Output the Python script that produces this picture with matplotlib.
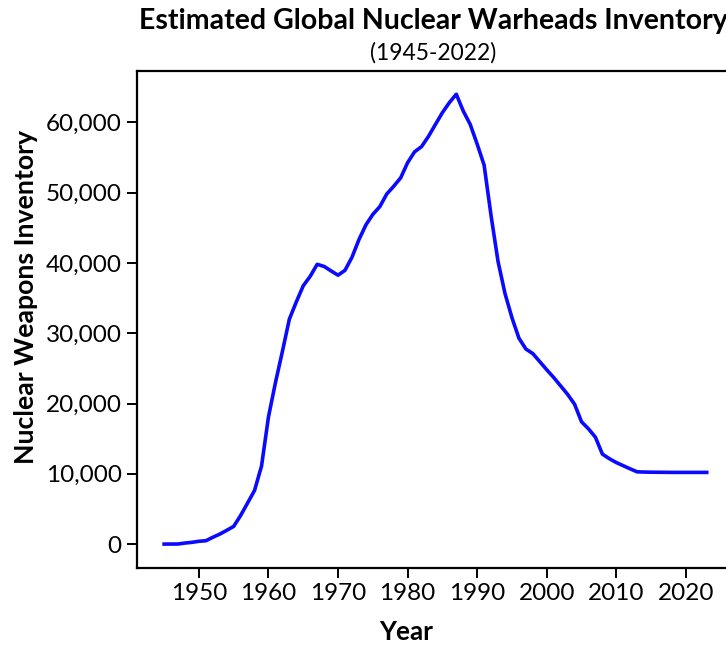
import numpy as np
import matplotlib
matplotlib.use("Agg")
from matplotlib import pyplot as plt
from matplotlib.ticker import FuncFormatter

plt.rcParams['font.family'] = ['Lato', 'DejaVu Sans']

# estimated global warhead inventory
years = list(range(1945, 2024))
warheads = [
    2, 9, 13, 150, 250, 400, 480, 970, 1420, 1960,          # 1945-1954
    2520, 4080, 5850, 7640, 11100, 18100, 22960, 27400, 32000, 34450,  # 1955-1964
    36750, 38100, 39800, 39500, 38860, 38250, 38950, 40800, 43300, 45400,  # 1965-1974
    46900, 48000, 49800, 50900, 52100, 54260, 55800, 56540, 58000, 59700,  # 1975-1984
    61380, 62800, 64000, 61600, 59700, 56900, 53900, 46700, 40200, 35650,  # 1985-1994
    32200, 29300, 27750, 27100, 25950, 24800, 23700, 22500, 21300, 19900,  # 1995-2004
    17400, 16400, 15200, 12800, 12150, 11600, 11150, 10700, 10280, 10250,  # 2005-2014
    10230, 10220, 10210, 10200, 10200, 10200, 10200, 10200, 10200,         # 2015-2023
]

xticks = [1950, 1960, 1970, 1980, 1990, 2000, 2010, 2020]
yticks = [0, 10000, 20000, 30000, 40000, 50000, 60000]

fig = plt.figure(figsize=(7.26, 6.48), dpi=100)
# axes runs slightly past the right edge, like the cropped original
ax = fig.add_axes([137/726, 80/648, 592/726, 497/648])

ax.plot(years, warheads, color='#0a0aff', linewidth=2.6)

ax.set_xlim(1941.1, 2026.2)
ax.set_ylim(-3400, 67300)
ax.set_xticks(xticks)
ax.set_yticks(yticks)
ax.yaxis.set_major_formatter(FuncFormatter(lambda v, p: f"{int(v):,}"))

for s in ax.spines.values():
    s.set_linewidth(1.6)
ax.tick_params(axis='both', direction='out', length=7, width=1.4, labelsize=17.5, pad=4)

fig.text(433/726, 1 - 21/648, "Estimated Global Nuclear Warheads Inventory",
         ha='center', va='center', fontsize=20.5, fontweight='bold')
fig.text(433/726, 1 - 53/648, "(1945-2022)", ha='center', va='center', fontsize=16.4)
fig.text(26/726, 1 - 297/648, "Nuclear Weapons Inventory", rotation=90,
         ha='center', va='center', fontsize=19.2, fontweight='bold')
fig.text(406/726, 1 - 632/648, "Year", ha='center', va='center', fontsize=18.8, fontweight='bold')

fig.savefig("out.png", dpi=100)
